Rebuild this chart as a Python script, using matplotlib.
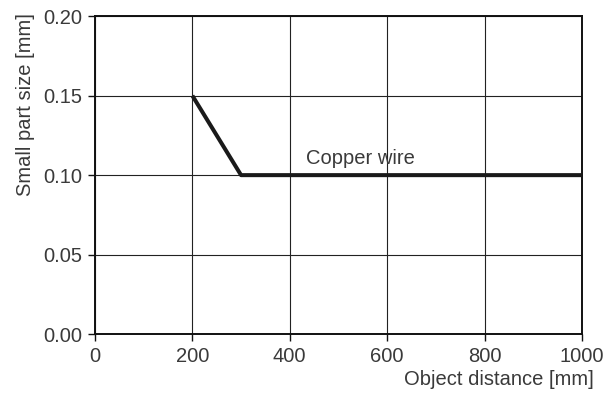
import matplotlib.pyplot as plt

distance = [200, 300, 1000]
part_size = [0.15, 0.10, 0.10]
x_ticks = [0, 200, 400, 600, 800, 1000]
y_ticks = [0.00, 0.05, 0.10, 0.15, 0.20]

plt.rcParams['font.family'] = ['Liberation Sans', 'DejaVu Sans']
txt_color = "#3a3a3a"
fs = 14.5

fig = plt.figure(figsize=(6.03, 3.94), dpi=100)
ax = fig.add_axes([0.1575, 0.152, 0.8075, 0.807])

ax.plot(distance, part_size, color="#1a1a1a", linewidth=2.9, solid_capstyle="butt", zorder=3)
ax.text(433, 0.1045, "Copper wire", fontsize=fs, color=txt_color, va="bottom", ha="left")

ax.set_xlim(0, 1000)
ax.set_ylim(0, 0.2)
ax.set_xticks(x_ticks)
ax.set_yticks(y_ticks)
ax.set_yticklabels([f"{v:.2f}" for v in y_ticks])
ax.grid(True, color="#222222", linewidth=0.8)

for s in ax.spines.values():
    s.set_linewidth(1.4)
    s.set_color("#111111")

ax.tick_params(direction="out", length=5, width=1, colors="#111111", labelsize=fs,
               labelcolor=txt_color, pad=4)

ax.set_xlabel("Object distance [mm]", fontsize=fs, color=txt_color, loc="right", labelpad=3)
ax.xaxis.label.set_x(1.025)
ax.set_ylabel("Small part size [mm]", fontsize=fs, color=txt_color, loc="top", labelpad=6)
ax.yaxis.label.set_y(1.01)

fig.savefig("out.png", dpi=100)
